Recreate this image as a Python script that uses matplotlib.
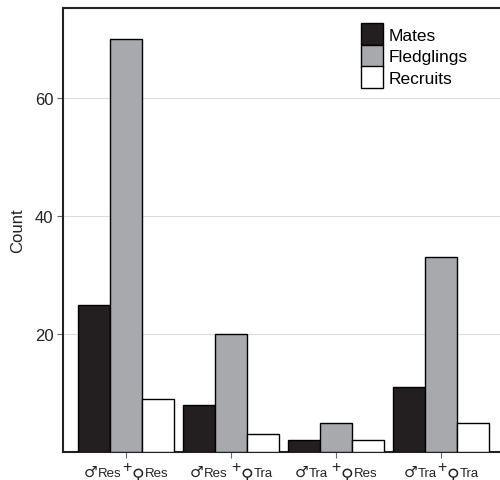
import numpy as np
import matplotlib
matplotlib.use("Agg")
from matplotlib import pyplot as plt

plt.rcParams['font.family'] = ['Liberation Sans', 'DejaVu Sans']

# pair types: male status + female status
males = ["Res", "Res", "Tra", "Tra"]
females = ["Res", "Tra", "Res", "Tra"]
mates = [25, 8, 2, 11]
fledglings = [70, 20, 5, 33]
recruits = [9, 3, 2, 5]

series = ["Mates", "Fledglings", "Recruits"]
colors = ["#231f20", "#a7a9ac", "#ffffff"]

fig = plt.figure(figsize=(5.0, 4.81), dpi=100)
ax = fig.add_axes([63 / 500, 28 / 481, 437 / 500, 444 / 481])

x = np.arange(len(males))
w = 0.302
for i, (vals, name, c) in enumerate(zip([mates, fledglings, recruits], series, colors)):
    ax.bar(x + (i - 1) * w, vals, width=w, color=c, edgecolor="black",
           linewidth=1.0, label=name, zorder=3)

ax.set_xlim(-0.6, 3.562)
ax.set_ylim(0, 75.3)
ax.set_yticks([20, 40, 60])
ax.set_xticks(x)
ax.set_xticklabels([])
ax.tick_params(axis="y", labelsize=12, length=4, width=0.8, color="#666666",
               labelcolor="#222222", pad=3)
ax.tick_params(axis="x", length=4, width=0.8, color="#666666")
ax.set_ylabel("Count", fontsize=12, color="#222222", labelpad=7)

ax.grid(axis="y", color="#dcdcdc", linewidth=0.8, zorder=0)
ax.set_axisbelow(True)
for s in ["left", "bottom", "top"]:
    ax.spines[s].set_linewidth(1.5)
    ax.spines[s].set_color("#222222")
ax.spines["right"].set_visible(False)

ax.legend(loc="upper left", bbox_to_anchor=(0.682, 0.966), frameon=False,
          fontsize=12.5, handlelength=1.27, handleheight=1.57,
          labelspacing=-0.02, handletextpad=0.3, borderaxespad=0, borderpad=0)

# tick labels built from pieces so the sex symbols can be larger
# and the "+" raised
renderer = fig.canvas.get_renderer()
base = -17.5
for xi, (m, f) in enumerate(zip(males, females)):
    gap = 2.5 if xi in (1, 2) else 0.0
    pieces = [("♂", "DejaVu Sans", 11, 0, 0.3),
              (m, "Liberation Sans", 9.5, 0, 0.2 + gap),
              ("+", "Liberation Sans", 11.5, 3.5, 0.1),
              ("♀", "DejaVu Sans", 12.5, -2.2, 0.3),
              (f, "Liberation Sans", 9.5, 0, 0)]
    texts = []
    total = 0.0
    for s, fam, size, dy, g in pieces:
        t = ax.annotate(s, xy=(xi, 0), xycoords=("data", "axes fraction"),
                        xytext=(0, base + dy), textcoords="offset points",
                        ha="left", va="baseline", family=fam, fontsize=size,
                        color="#222222", annotation_clip=False)
        wpt = t.get_window_extent(renderer).width * 72 / fig.dpi
        texts.append((t, wpt, dy, g))
        total += wpt + g
    pos = -total / 2
    for t, wpt, dy, g in texts:
        t.xyann = (pos, base + dy)
        pos += wpt + g

fig.savefig("out.png", dpi=100)
